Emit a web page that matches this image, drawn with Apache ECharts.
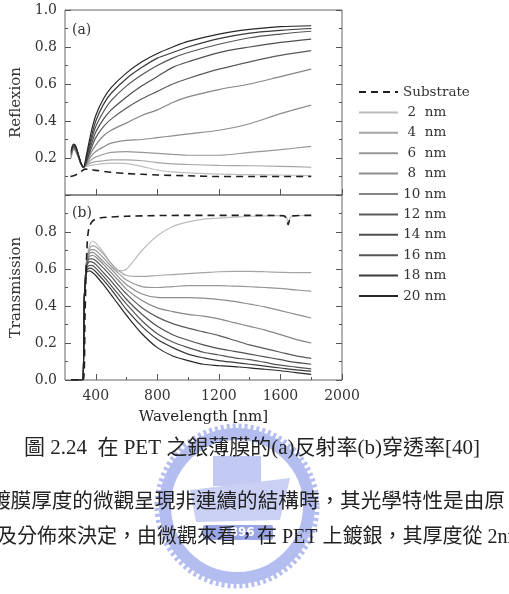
<!DOCTYPE html>
<html>
<head>
<meta charset="utf-8">
<script src="https://cdn.jsdelivr.net/npm/echarts@6/dist/echarts.min.js"></script>
<style>
html, body { margin: 0; padding: 0; background: #fff; }
#chart { width: 509px; height: 594px; }
</style>
</head>
<body>
<div id="chart"></div>
<script>
// wavelength sampling [nm]
const wlR = [240, 255, 270, 290, 305, 320, 340, 370, 400, 450, 500, 600, 700, 800, 900, 1000, 1200, 1400, 1600, 1800];
const wlT = [240, 312, 326, 340, 360, 380, 400, 450, 500, 550, 600, 700, 800, 900, 1000, 1100, 1200, 1300, 1400, 1500, 1600, 1700, 1800];
const wlT2 = [240, 312, 326, 340, 360, 380, 400, 450, 500, 550, 600, 700, 800, 900, 1000, 1100, 1200, 1300, 1400, 1500, 1600, 1635, 1650, 1665, 1700, 1800];
const wlSubR = [235, 260, 285, 310, 330, 360, 400, 500, 600, 700, 800, 1000, 1200, 1400, 1600, 1800];
const wlSubT = [240, 318, 330, 342, 355, 380, 420, 600, 1000, 1400, 1620, 1640, 1650, 1660, 1680, 1800];

const names = ['2 nm', '4 nm', '6 nm', '8 nm', '10 nm', '12 nm', '14 nm', '16 nm', '18 nm', '20 nm'];

// (a) reflexion
const subR = [0.10, 0.105, 0.115, 0.13, 0.14, 0.138, 0.133, 0.123, 0.116, 0.112, 0.108, 0.104, 0.10, 0.10, 0.10, 0.10];
const r02 = [0.20, 0.245, 0.235, 0.195, 0.165, 0.15, 0.155, 0.16, 0.165, 0.17, 0.172, 0.17, 0.155, 0.135, 0.125, 0.12, 0.113, 0.11, 0.108, 0.105];
const r04 = [0.20, 0.25, 0.235, 0.20, 0.165, 0.15, 0.16, 0.175, 0.18, 0.185, 0.19, 0.19, 0.185, 0.175, 0.168, 0.165, 0.16, 0.158, 0.155, 0.15];
const r06 = [0.205, 0.25, 0.24, 0.20, 0.165, 0.15, 0.165, 0.19, 0.205, 0.22, 0.23, 0.235, 0.23, 0.225, 0.22, 0.215, 0.215, 0.23, 0.245, 0.263];
const r08 = [0.21, 0.255, 0.24, 0.20, 0.166, 0.15, 0.17, 0.21, 0.235, 0.26, 0.28, 0.295, 0.30, 0.31, 0.32, 0.33, 0.35, 0.385, 0.44, 0.486];
const r10 = [0.215, 0.255, 0.245, 0.20, 0.166, 0.15, 0.175, 0.23, 0.27, 0.32, 0.35, 0.39, 0.43, 0.46, 0.50, 0.53, 0.57, 0.60, 0.64, 0.68];
const r12 = [0.22, 0.26, 0.25, 0.205, 0.167, 0.15, 0.18, 0.25, 0.31, 0.37, 0.41, 0.47, 0.52, 0.56, 0.60, 0.63, 0.68, 0.72, 0.755, 0.78];
const r14 = [0.225, 0.26, 0.25, 0.205, 0.167, 0.15, 0.185, 0.27, 0.34, 0.41, 0.46, 0.53, 0.59, 0.64, 0.69, 0.72, 0.77, 0.80, 0.825, 0.843];
const r16 = [0.23, 0.265, 0.255, 0.205, 0.168, 0.15, 0.195, 0.29, 0.37, 0.45, 0.51, 0.59, 0.65, 0.70, 0.74, 0.77, 0.815, 0.85, 0.87, 0.885];
const r18 = [0.235, 0.27, 0.26, 0.21, 0.17, 0.15, 0.205, 0.31, 0.40, 0.49, 0.55, 0.63, 0.69, 0.74, 0.77, 0.80, 0.845, 0.875, 0.89, 0.90];
const r20 = [0.24, 0.275, 0.265, 0.21, 0.17, 0.15, 0.22, 0.34, 0.43, 0.52, 0.58, 0.66, 0.72, 0.765, 0.80, 0.83, 0.87, 0.895, 0.91, 0.915];

// (b) transmission
const subT = [0, 0, 0.35, 0.70, 0.82, 0.86, 0.875, 0.885, 0.89, 0.89, 0.888, 0.87, 0.84, 0.865, 0.887, 0.89];
const t02 = [0, 0, 0.45, 0.645, 0.73, 0.75, 0.74, 0.69, 0.63, 0.59, 0.60, 0.70, 0.78, 0.83, 0.855, 0.87, 0.875, 0.88, 0.885, 0.887, 0.888, 0.886, 0.845, 0.88, 0.889, 0.89];
const t04 = [0, 0, 0.45, 0.64, 0.71, 0.725, 0.72, 0.68, 0.63, 0.59, 0.565, 0.56, 0.565, 0.57, 0.575, 0.58, 0.585, 0.587, 0.587, 0.585, 0.582, 0.58, 0.58];
const t06 = [0, 0, 0.45, 0.635, 0.70, 0.705, 0.70, 0.66, 0.615, 0.575, 0.54, 0.505, 0.50, 0.505, 0.51, 0.51, 0.51, 0.507, 0.504, 0.50, 0.495, 0.487, 0.48];
const t08 = [0, 0, 0.45, 0.63, 0.685, 0.69, 0.68, 0.64, 0.60, 0.555, 0.515, 0.465, 0.447, 0.445, 0.445, 0.443, 0.435, 0.425, 0.41, 0.395, 0.375, 0.355, 0.335];
const t10 = [0, 0, 0.45, 0.625, 0.67, 0.673, 0.665, 0.625, 0.58, 0.535, 0.49, 0.43, 0.39, 0.37, 0.355, 0.345, 0.33, 0.31, 0.29, 0.27, 0.245, 0.22, 0.20];
const t12 = [0, 0, 0.45, 0.62, 0.655, 0.655, 0.645, 0.605, 0.56, 0.51, 0.465, 0.39, 0.34, 0.305, 0.28, 0.26, 0.24, 0.215, 0.19, 0.17, 0.15, 0.13, 0.117];
const t14 = [0, 0, 0.45, 0.61, 0.64, 0.637, 0.625, 0.58, 0.535, 0.485, 0.435, 0.355, 0.29, 0.245, 0.215, 0.19, 0.17, 0.155, 0.14, 0.125, 0.11, 0.095, 0.085];
const t16 = [0, 0, 0.45, 0.60, 0.62, 0.618, 0.605, 0.56, 0.51, 0.46, 0.41, 0.32, 0.25, 0.205, 0.175, 0.15, 0.135, 0.12, 0.11, 0.095, 0.08, 0.07, 0.06];
const t18 = [0, 0, 0.45, 0.59, 0.605, 0.60, 0.585, 0.54, 0.49, 0.435, 0.38, 0.29, 0.22, 0.175, 0.14, 0.12, 0.105, 0.095, 0.085, 0.075, 0.065, 0.055, 0.048];
const t20 = [0, 0, 0.45, 0.58, 0.59, 0.58, 0.565, 0.515, 0.46, 0.405, 0.35, 0.25, 0.175, 0.13, 0.105, 0.085, 0.078, 0.072, 0.066, 0.058, 0.05, 0.04, 0.03];

const xMajor = [400, 800, 1200, 1600, 2000];
const xMinor = [600, 1000, 1400, 1800];

const reflList = [r02, r04, r06, r08, r10, r12, r14, r16, r18, r20];
const transList = [t02, t04, t06, t08, t10, t12, t14, t16, t18, t20];
const transWl = [wlT2, wlT, wlT, wlT, wlT, wlT, wlT, wlT, wlT, wlT];
const grays = ['#bdbdbd', '#a5a5a5', '#979797', '#8d8d8d', '#858585', '#5a5a5a', '#4f4f4f', '#555555', '#3a3a3a', '#262626'];

const serif = 'DejaVu Serif';
const axisColor = '#555';

function pairs(xs, ys) {
  return xs.map((x, i) => [x, ys[i]]);
}

function yAx(grid, pos, labels, name, hide) {
  return {
    type: 'value', gridIndex: grid, position: pos, min: 0, max: 1, interval: 0.2,
    axisLine: { show: false },
    axisTick: { show: true, inside: true, length: 6, lineStyle: { color: axisColor } },
    minorTick: { show: true, splitNumber: 2, length: 3, lineStyle: { color: axisColor } },
    splitLine: { show: false },
    axisLabel: {
      show: labels, margin: 8, fontFamily: serif, fontSize: 14, color: '#333',
      formatter: v => (Math.abs(v - hide) < 1e-6 ? '' : v.toFixed(1))
    },
    name: name, nameLocation: 'middle', nameGap: 34,
    nameTextStyle: { fontFamily: serif, fontSize: 15, color: '#333' }
  };
}

const series = [];
names.forEach((n, i) => {
  series.push({
    name: n, type: 'line', xAxisIndex: 0, yAxisIndex: 0, symbol: 'none', smooth: 0.3,
    data: pairs(wlR, reflList[i]), lineStyle: { width: 1.2, color: grays[i] }, itemStyle: { color: grays[i] }
  });
  series.push({
    name: n, type: 'line', xAxisIndex: 1, yAxisIndex: 2, symbol: 'none', smooth: 0.3,
    data: pairs(transWl[i], transList[i]), lineStyle: { width: 1.2, color: grays[i] }, itemStyle: { color: grays[i] }
  });
});
series.push({
  name: 'Substrate', type: 'line', xAxisIndex: 0, yAxisIndex: 0, symbol: 'none', smooth: 0.3,
  data: pairs(wlSubR, subR), lineStyle: { width: 1.6, color: '#1e1e1e', type: [7, 5] }, itemStyle: { color: '#1e1e1e' }
});
series.push({
  name: 'Substrate', type: 'line', xAxisIndex: 1, yAxisIndex: 2, symbol: 'none', smooth: 0.3,
  data: pairs(wlSubT, subT), lineStyle: { width: 1.6, color: '#1e1e1e', type: [7, 5] }, itemStyle: { color: '#1e1e1e' }
});

const chart = echarts.init(document.getElementById('chart'));
chart.setOption({
  animation: false,
  backgroundColor: '#fff',
  grid: [
    { left: 65, top: 10, width: 277, height: 185, show: true, borderColor: '#666', borderWidth: 1 },
    { left: 65, top: 195, width: 277, height: 185, show: true, borderColor: '#666', borderWidth: 1 },
    { left: 65, top: 195, width: 277, height: 185, show: false }
  ],
  xAxis: [
    {
      type: 'value', gridIndex: 0, position: 'bottom', min: 200, max: 2000,
      axisLine: { show: false }, splitLine: { show: false },
      axisTick: { show: true, inside: true, length: 6, customValues: xMajor, lineStyle: { color: axisColor } },
      axisLabel: { show: false }
    },
    {
      type: 'value', gridIndex: 1, position: 'bottom', min: 200, max: 2000,
      axisLine: { show: false }, splitLine: { show: false },
      axisTick: { show: true, inside: true, length: 6, customValues: xMajor, lineStyle: { color: axisColor } },
      axisLabel: {
        show: true, customValues: xMajor, margin: 9, fontFamily: serif, fontSize: 14, color: '#333',
        formatter: v => String(v)
      },
      name: 'Wavelength [nm]', nameLocation: 'middle', nameGap: 30,
      nameTextStyle: { fontFamily: serif, fontSize: 15, color: '#222' }
    },
    {
      // minor ticks of panel (a), drawn upward from the shared border
      type: 'value', gridIndex: 1, position: 'top', min: 200, max: 2000,
      axisLine: { show: false }, splitLine: { show: false },
      axisTick: { show: true, inside: false, length: 3, customValues: xMinor, lineStyle: { color: axisColor } },
      axisLabel: { show: false }
    },
    {
      // minor ticks of panel (b)
      type: 'value', gridIndex: 2, position: 'bottom', min: 200, max: 2000,
      axisLine: { show: false }, splitLine: { show: false },
      axisTick: { show: true, inside: true, length: 3, customValues: xMinor, lineStyle: { color: axisColor } },
      axisLabel: { show: false }
    }
  ],
  yAxis: [
    yAx(0, 'left', true, 'Reflexion', 0),
    yAx(0, 'right', false, '', -1),
    yAx(1, 'left', true, 'Transmission', 1),
    yAx(1, 'right', false, '', -1),
    { type: 'value', gridIndex: 2, min: 0, max: 1, show: false }
  ],
  legend: {
    data: ['Substrate'].concat(names),
    orient: 'vertical', left: 353, top: 80,
    itemWidth: 39, itemHeight: 14, itemGap: 6.4,
    selectedMode: false,
    itemStyle: { opacity: 0 },
    formatter: name => {
      if (name === 'Substrate') return name;
      const num = name.split(' ')[0];
      return '{n|' + num + '} nm';
    },
    textStyle: {
      fontFamily: serif, fontSize: 13.5, color: '#333',
      rich: { n: { width: 17.5, align: 'right', fontFamily: serif, fontSize: 13.5, color: '#333' } }
    }
  },
  graphic: [
    // faint university watermark behind the caption
    { type: 'circle', z: 0, shape: { cx: 237, cy: 506, r: 72 }, style: { fill: 'none', stroke: '#b3bdef', lineWidth: 12 } },
    { type: 'circle', z: 0, shape: { cx: 237, cy: 506, r: 80 }, style: { fill: 'none', stroke: '#b3bdef', lineWidth: 5, lineDash: [3, 3] } },
    { type: 'rect', z: 0, shape: { x: 213, y: 456, width: 48, height: 30 }, style: { fill: '#c2caf3' } },
    { type: 'polygon', z: 0, shape: { points: [[190, 490], [290, 478], [280, 520], [196, 522]] }, style: { fill: '#c9d0f4' } },
    { type: 'rect', z: 0, shape: { x: 203, y: 525, width: 70, height: 15, r: 2 }, style: { fill: '#9aa6e6' } },
    { type: 'text', z: 1, style: { text: '1896', x: 238, y: 533, align: 'center', verticalAlign: 'middle', font: 'bold 12px DejaVu Sans', fill: '#fff' } },
    // panel labels
    { type: 'text', z: 10, style: { text: '(a)', x: 72, y: 30, verticalAlign: 'middle', font: '14px DejaVu Serif', fill: '#333' } },
    { type: 'text', z: 10, style: { text: '(b)', x: 72, y: 213, verticalAlign: 'middle', font: '14px DejaVu Serif', fill: '#333' } },
    // caption and body text
    { type: 'text', z: 10, style: { text: '圖 2.24  在 PET 之銀薄膜的(a)反射率(b)穿透率[40]', x: 252, y: 448, align: 'center', verticalAlign: 'middle', font: '21px "Liberation Serif", "Noto Sans CJK TC"', fill: '#222' } },
    { type: 'text', z: 10, style: { text: '鍍膜厚度的微觀呈現非連續的結構時，其光學特性是由原', x: -10, y: 500, verticalAlign: 'middle', font: '20.6px "Noto Sans CJK TC"', fill: '#222' } },
    { type: 'text', z: 10, style: { text: '及分佈來決定，由微觀來看，在 PET 上鍍銀，其厚度從 2nm~', x: -3, y: 538, verticalAlign: 'middle', font: '20px "Liberation Serif", "Noto Sans CJK TC"', fill: '#222' } }
  ],
  series: series
});
</script>
</body>
</html>
